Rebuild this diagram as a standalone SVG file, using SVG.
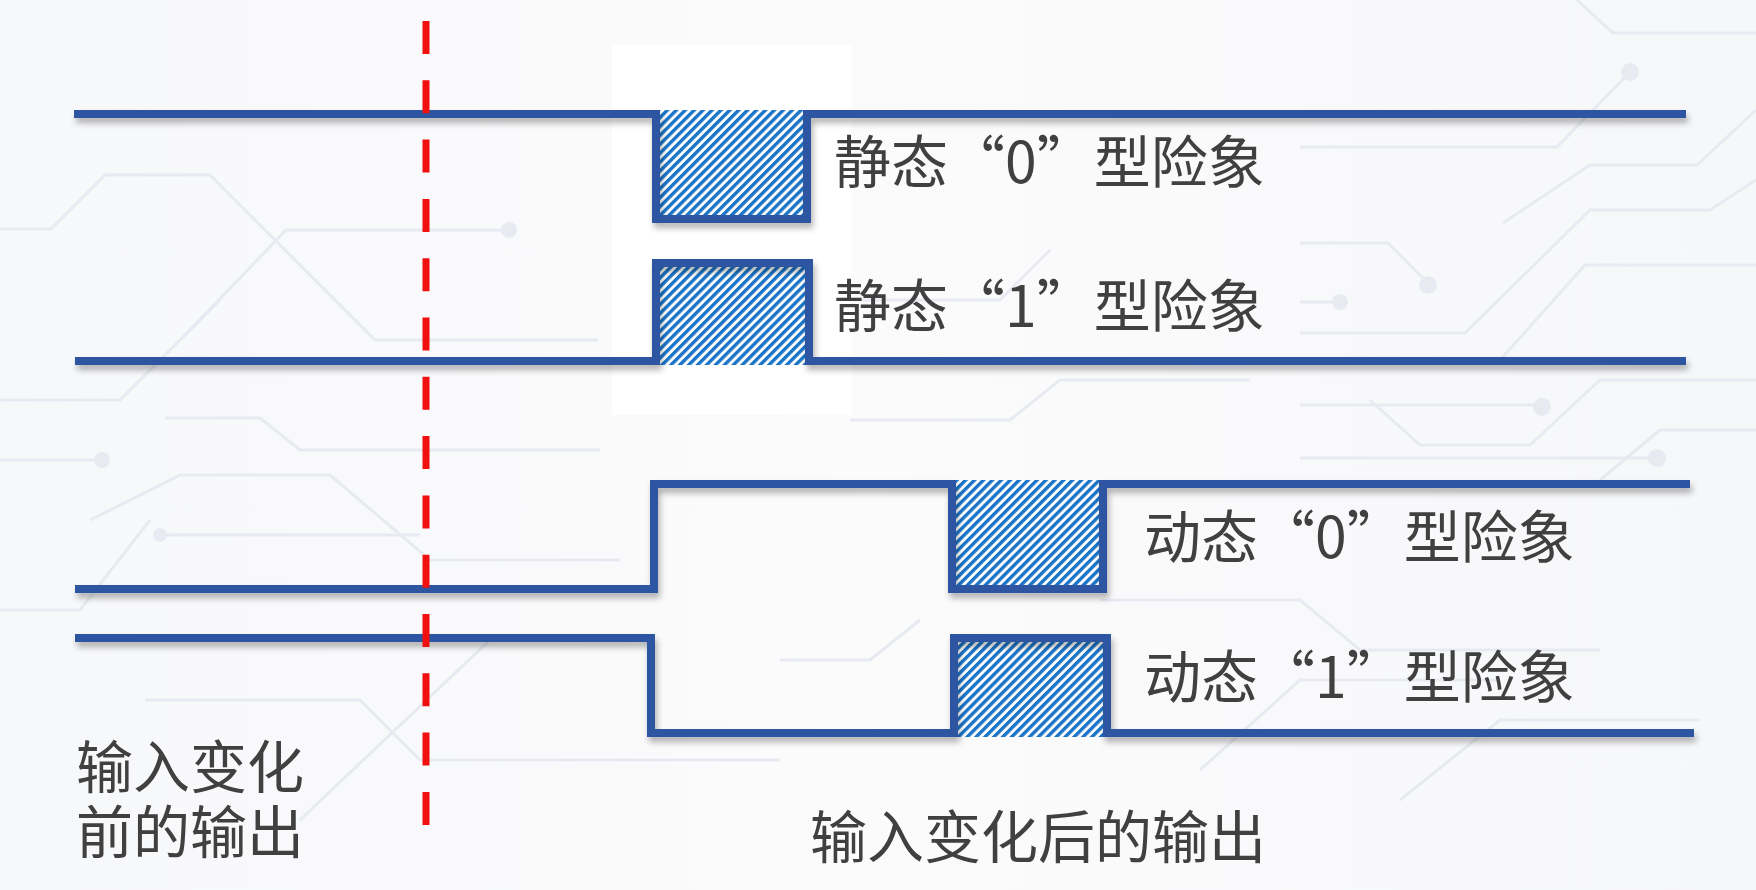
<svg xmlns="http://www.w3.org/2000/svg" width="1756" height="890" viewBox="0 0 1756 890">
<style>
.wave{fill:none;stroke:#2E54A2;stroke-width:8;stroke-linejoin:miter;stroke-linecap:butt;filter:url(#sh)}
.hatch{fill:url(#hp)}
.lbl{font-family:"Noto Sans CJK SC","Noto Sans",sans-serif;font-size:57px;fill:#404040}
.trace{fill:none;stroke:#e7ebf1;stroke-width:3}
.dot{fill:#e7ebf1}
</style>
<defs>
<pattern id="hp" patternUnits="userSpaceOnUse" width="6.3" height="10" patternTransform="rotate(45)">
<rect width="6.3" height="10" fill="#ffffff"/>
<rect width="3.4" height="10" fill="#1A74C8"/>
</pattern>
<filter id="sh" x="-5%" y="-50%" width="110%" height="200%">
<feDropShadow dx="2" dy="5" stdDeviation="3" flood-color="#000" flood-opacity="0.3"/>
</filter>
<linearGradient id="bg" x1="0" y1="0" x2="1" y2="0">
<stop offset="0" stop-color="#f7f8fa"/>
<stop offset="0.5" stop-color="#fbfbfc"/>
<stop offset="1" stop-color="#f6f7f9"/>
</linearGradient>
</defs>
<rect width="1756" height="890" fill="url(#bg)"/>
<g id="background">
<polyline class="trace" points="0,229 51,229 105,175 210,175 375,340 598,340"/>
<polyline class="trace" points="187,333 286,230 509,230"/>
<circle class="dot" cx="509" cy="230" r="8"/>
<polyline class="trace" points="0,400 120,400 220,300"/>
<circle class="dot" cx="102" cy="460" r="8"/>
<polyline class="trace" points="0,460 102,460"/>
<polyline class="trace" points="165,418 260,418 300,450 600,450"/>
<polyline class="trace" points="90,520 180,475 330,475 430,560 620,560"/>
<polyline class="trace" points="0,610 80,610 150,520"/>
<polyline class="trace" points="160,535 420,535"/>
<circle class="dot" cx="160" cy="535" r="7"/>
<polyline class="trace" points="145,700 360,700 420,760 780,760"/>
<polyline class="trace" points="300,820 490,640 560,640"/>
<polyline class="trace" points="1577,0 1613,33 1756,33"/>
<polyline class="trace" points="1630,72 1557,147 1300,147"/>
<circle class="dot" cx="1630" cy="72" r="9"/>
<polyline class="trace" points="1503,223 1590,165 1697,165 1756,110"/>
<polyline class="trace" points="1300,243 1388,243 1430,285"/>
<circle class="dot" cx="1428" cy="285" r="9"/>
<polyline class="trace" points="1300,302 1340,302"/>
<circle class="dot" cx="1340" cy="302" r="8"/>
<polyline class="trace" points="1300,333 1465,333 1590,210 1710,210 1756,180"/>
<polyline class="trace" points="1500,360 1585,265 1756,265"/>
<polyline class="trace" points="1300,405 1540,405"/>
<circle class="dot" cx="1542" cy="407" r="9"/>
<polyline class="trace" points="1370,400 1420,445 1530,445 1600,380 1756,380"/>
<polyline class="trace" points="1300,458 1660,458"/>
<circle class="dot" cx="1657" cy="458" r="9"/>
<polyline class="trace" points="1600,480 1660,430 1756,430"/>
<polyline class="trace" points="850,420 1010,420 1060,380 1250,380"/>
<polyline class="trace" points="860,300 1000,300 1050,250"/>
<polyline class="trace" points="1100,600 1300,600 1360,650 1600,650"/>
<polyline class="trace" points="1200,770 1300,680 1500,680"/>
<polyline class="trace" points="780,660 870,660 920,620"/>
<polyline class="trace" points="1400,800 1500,720 1700,720"/>
</g>
<rect x="612" y="45" width="240" height="370" fill="#ffffff" opacity="0.85"/>
<g id="hatches">
<rect class="hatch" x="656" y="110" width="151" height="109"/>
<rect class="hatch" x="656" y="263" width="153" height="102"/>
<rect class="hatch" x="952" y="480" width="151" height="109"/>
<rect class="hatch" x="954" y="638" width="153" height="99"/>
</g>
<g id="connectors">
<path class="wave" d="M74,114 H656 V219 H807 V114 H1686"/>
<path class="wave" d="M75,361 H656 V263 H809 V361 H1686"/>
<path class="wave" d="M75,589 H654 V484 H952 V589 H1103 V484 H1690"/>
<path class="wave" d="M75,638 H651 V733 H954 V638 H1107 V733 H1694"/>
<line x1="426" y1="21" x2="426" y2="825" stroke="#F01010" stroke-width="7" stroke-dasharray="33 26.3"/>
</g>
<g id="static0"><text class="lbl" x="834" y="183">静态“0”型险象</text></g>
<g id="static1"><text class="lbl" x="834" y="327">静态“1”型险象</text></g>
<g id="dynamic0"><text class="lbl" x="1144" y="558">动态“0”型险象</text></g>
<g id="dynamic1"><text class="lbl" x="1144" y="698">动态“1”型险象</text></g>
<g id="before"><text class="lbl"><tspan x="76" y="788">输入变化</tspan><tspan x="76" y="853">前的输出</tspan></text></g>
<g id="after"><text class="lbl" x="810" y="858">输入变化后的输出</text></g>
</svg>
